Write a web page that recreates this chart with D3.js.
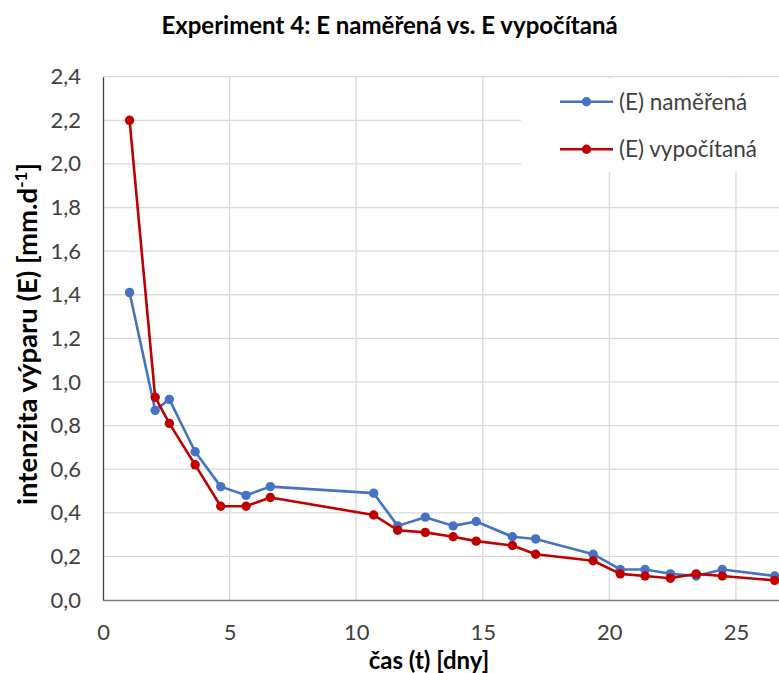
<!DOCTYPE html>
<html>
<head>
<meta charset="utf-8">
<script src="https://cdn.jsdelivr.net/npm/d3@7"></script>
<style>
  html, body { margin: 0; padding: 0; background: #fff; }
  svg { display: block; font-family: Lato, "Open Sans", sans-serif; }
</style>
</head>
<body>
<svg id="chart" width="779" height="673"></svg>
<script>
// Evaporation intensity over time, Experiment 4
const days = [1.05, 2.06, 2.62, 3.64, 4.65, 5.65, 6.61, 10.69, 11.64, 12.73, 13.83,
              14.74, 16.17, 17.09, 19.36, 20.43, 21.41, 22.41, 23.43, 24.46, 26.53];
const measured = [1.41, 0.87, 0.92, 0.68, 0.52, 0.48, 0.52, 0.49, 0.34, 0.38, 0.34,
                  0.36, 0.29, 0.28, 0.21, 0.14, 0.14, 0.12, 0.11, 0.14, 0.11];
const computed = [2.20, 0.93, 0.81, 0.62, 0.43, 0.43, 0.47, 0.39, 0.32, 0.31, 0.29,
                  0.27, 0.25, 0.21, 0.18, 0.12, 0.11, 0.10, 0.12, 0.11, 0.09];
const seriesNames = ["(E) naměřená", "(E) vypočítaná"];
const xTicks = [0, 5, 10, 15, 20, 25];
const yTicks = [0, 0.2, 0.4, 0.6, 0.8, 1.0, 1.2, 1.4, 1.6, 1.8, 2.0, 2.2, 2.4];

const titleText = "Experiment 4: E naměřená vs. E vypočítaná";
const xTitle = "čas (t) [dny]";

const colors = ["#4472C4", "#C00000"];

const svg = d3.select("#chart");
const W = 779, H = 673;
const plot = { left: 103, right: 779, top: 76.7, bottom: 600 };

const x = d3.scaleLinear().domain([0, 26.7]).range([plot.left, plot.right]);
const y = d3.scaleLinear().domain([0, 2.4]).range([plot.bottom, plot.top]);

const csLocale = d3.formatLocale({ decimal: ",", thousands: " ", grouping: [3], currency: ["", " Kč"] });
const fmtY = csLocale.format(".1f");

// gridlines
const grid = svg.append("g").attr("stroke", "#d9d9d9").attr("stroke-width", 1.3);
grid.selectAll("line.h").data(yTicks.filter(v => v > 0)).join("line")
  .attr("x1", plot.left).attr("x2", plot.right)
  .attr("y1", d => y(d)).attr("y2", d => y(d));
grid.selectAll("line.v").data(xTicks.filter(v => v > 0)).join("line")
  .attr("y1", plot.top).attr("y2", plot.bottom)
  .attr("x1", d => x(d)).attr("x2", d => x(d));

// axes
const xAxis = d3.axisBottom(x).tickValues(xTicks).tickSize(0).tickPadding(24).tickFormat(d3.format("d"));
const yAxis = d3.axisLeft(y).tickValues(yTicks).tickSize(0).tickPadding(22).tickFormat(fmtY);

const gx = svg.append("g").attr("transform", `translate(0,${plot.bottom})`).call(xAxis);
const gy = svg.append("g").attr("transform", `translate(${plot.left},0)`).call(yAxis);
gx.select(".domain").attr("stroke", "#7f7f7f").attr("stroke-width", 1.3);
gy.select(".domain").attr("stroke", "#404040").attr("stroke-width", 1.3);
[gx, gy].forEach(g => {
  g.selectAll("text").attr("fill", "#404040").attr("font-size", 22).attr("font-family", "Lato");
});

// series lines and markers
const series = [measured, computed];
series.forEach((vals, i) => {
  const pts = days.map((d, k) => [d, vals[k]]);
  svg.append("path")
    .datum(pts)
    .attr("fill", "none")
    .attr("stroke", colors[i])
    .attr("stroke-width", 2.6)
    .attr("stroke-linejoin", "round")
    .attr("d", d3.line().x(p => x(p[0])).y(p => y(p[1])));
  svg.append("g").selectAll("circle").data(pts).join("circle")
    .attr("cx", p => x(p[0])).attr("cy", p => y(p[1])).attr("r", 4.7)
    .attr("fill", colors[i]);
});

// legend
const legend = svg.append("g");
legend.append("rect").attr("x", 521).attr("y", 78).attr("width", 258).attr("height", 94).attr("fill", "#fff");
const legendRows = [101.7, 149.3];
seriesNames.forEach((name, i) => {
  const g = legend.append("g").attr("transform", `translate(0,${legendRows[i]})`);
  g.append("line").attr("x1", 560).attr("x2", 613).attr("y1", 0).attr("y2", 0)
    .attr("stroke", colors[i]).attr("stroke-width", 2.6);
  g.append("circle").attr("cx", 586.5).attr("cy", 0).attr("r", 4.7).attr("fill", colors[i]);
  g.append("text").attr("x", 619).attr("y", 0).attr("dy", "0.35em")
    .attr("font-size", 22.5).attr("fill", "#404040").text(name);
});

// titles
svg.append("text").attr("x", W / 2).attr("y", 33.5).attr("text-anchor", "middle")
  .attr("font-size", 24).attr("font-weight", "bold").attr("fill", "#000").text(titleText);

svg.append("text").attr("x", 429).attr("y", 669).attr("text-anchor", "middle")
  .attr("font-size", 24).attr("font-weight", "bold").attr("fill", "#000").text(xTitle);

const yt = svg.append("text")
  .attr("transform", `translate(36.5,334) rotate(-90)`)
  .attr("text-anchor", "middle")
  .attr("font-size", 27.5).attr("font-weight", "bold").attr("fill", "#000");
yt.append("tspan").text("intenzita výparu (E) [mm.d");
yt.append("tspan").attr("baseline-shift", "super").attr("font-size", 17).text("-1");
yt.append("tspan").text("]");
</script>
</body>
</html>
